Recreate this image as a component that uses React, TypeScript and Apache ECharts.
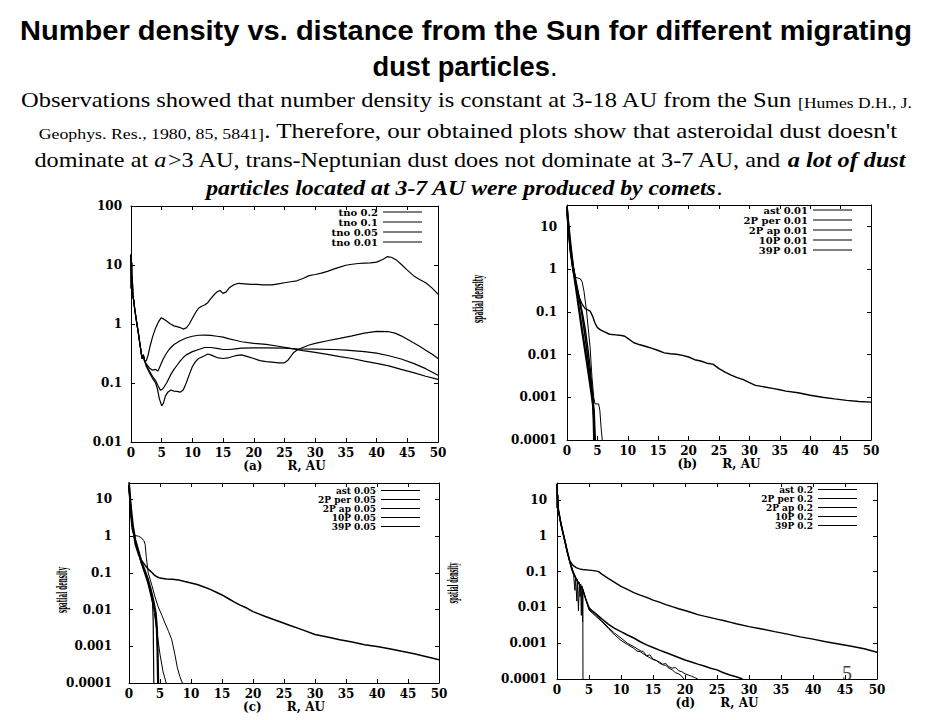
import React, { useEffect, useRef } from "react";
import * as echarts from "echarts";

type Pt = [number, number];

// ---------- axis ticks ----------
const xTickMin = 0;
const xTickMax = 50;
const xTickStep = 5;
const aYRange: Pt = [0.01, 100];
const bYRange: Pt = [0.0001, 32];
const cYRange: Pt = [0.0001, 28];
const dYRange: Pt = [0.0001, 30];

// ---------- panel (a) ----------
const aNames = ["tno 0.2", "tno 0.1", "tno 0.05", "tno 0.01"];
const aStart: Pt[] = [[0, 15], [0.05, 4], [0.1, 11], [0.15, 3.2], [0.2, 6.5], [0.3, 3], [0.45, 2.5], [0.6, 1.8], [0.8, 1.3], [1, 0.95], [1.2, 0.7], [1.4, 0.5], [1.6, 0.36], [1.8, 0.26], [2, 0.3], [2.2, 0.24]];
const aTno02: Pt[] = [...aStart, [2.5, 0.24], [2.8, 0.3], [3.1, 0.42], [3.5, 0.6], [4, 0.85], [4.5, 1.1], [4.9, 1.27], [5.3, 1.22], [5.8, 1.12], [6.3, 1.02], [7, 0.93], [7.5, 0.9], [8, 0.87], [8.5, 0.82], [9, 0.86], [9.5, 1.0], [10, 1.25], [10.5, 1.55], [11, 1.85], [11.5, 2.0], [12, 2.1], [12.5, 2.3], [13, 2.7], [13.5, 3.1], [14, 3.5], [14.5, 3.7], [15, 3.3], [15.5, 3.5], [16, 4.1], [16.7, 4.6], [17.5, 4.9], [18.5, 4.8], [19.5, 4.7], [20.5, 4.7], [21.5, 4.6], [23, 4.6], [24, 4.8], [25, 5.0], [26, 5.2], [27, 5.4], [28, 5.9], [29, 6.6], [30, 6.9], [31, 7.3], [32, 7.8], [33, 8.5], [34, 9.2], [35, 9.9], [36, 10.3], [37, 10.6], [38, 10.8], [39, 10.9], [40, 11.2], [41, 12.4], [41.8, 13.9], [42.5, 13.4], [43.2, 12.2], [44, 10.3], [45, 8.2], [46, 6.6], [47, 5.7], [48, 5.0], [49, 4.1], [50, 3.2]];
const aTno01: Pt[] = [...aStart, [2.5, 0.21], [3, 0.18], [3.5, 0.165], [4, 0.17], [4.4, 0.16], [4.8, 0.2], [5.2, 0.25], [5.7, 0.31], [6.2, 0.37], [7, 0.45], [8, 0.52], [9, 0.58], [10, 0.62], [11, 0.645], [12, 0.65], [13, 0.64], [14, 0.62], [15, 0.6], [16, 0.56], [17, 0.53], [18, 0.5], [20, 0.47], [22, 0.45], [24, 0.42], [26, 0.385], [28, 0.355], [30, 0.33], [32, 0.305], [34, 0.28], [36, 0.26], [38, 0.235], [40, 0.215], [42, 0.195], [44, 0.17], [46, 0.15], [48, 0.13], [50, 0.115]];
const aTno005: Pt[] = [...aStart, [2.5, 0.2], [3, 0.16], [3.5, 0.13], [4, 0.11], [4.4, 0.09], [4.8, 0.075], [5.2, 0.08], [5.8, 0.1], [6.5, 0.14], [7, 0.17], [7.5, 0.2], [8, 0.235], [8.5, 0.27], [9, 0.3], [10, 0.34], [11, 0.37], [12, 0.4], [13, 0.4], [14, 0.385], [15, 0.37], [16, 0.37], [17, 0.38], [18, 0.39], [20, 0.395], [22, 0.395], [25, 0.39], [27, 0.38], [30, 0.375], [33, 0.37], [35, 0.36], [38, 0.34], [40, 0.32], [42, 0.29], [44, 0.255], [46, 0.215], [48, 0.175], [50, 0.135]];
const aTno001: Pt[] = [...aStart, [2.5, 0.19], [3, 0.15], [3.5, 0.12], [4, 0.1], [4.3, 0.08], [4.6, 0.055], [5, 0.041], [5.3, 0.046], [5.6, 0.06], [6, 0.07], [6.5, 0.076], [7, 0.073], [7.5, 0.072], [8, 0.07], [8.5, 0.076], [9, 0.1], [9.5, 0.14], [10, 0.19], [10.5, 0.23], [11, 0.26], [12, 0.29], [12.5, 0.31], [13, 0.3], [14, 0.27], [15, 0.26], [16, 0.27], [17, 0.29], [18, 0.3], [19, 0.28], [20, 0.26], [21, 0.24], [22, 0.23], [23, 0.225], [24, 0.22], [25, 0.22], [25.5, 0.24], [26, 0.28], [26.5, 0.33], [27, 0.36], [28, 0.4], [29, 0.44], [30, 0.47], [32, 0.52], [34, 0.57], [36, 0.63], [38, 0.7], [40, 0.75], [42, 0.74], [43, 0.7], [44, 0.63], [45, 0.55], [46, 0.48], [47, 0.42], [48, 0.36], [49, 0.31], [50, 0.26]];

// ---------- panel (b) ----------
const bNames = ["ast 0.01", "2P per 0.01", "2P ap 0.01", "10P 0.01", "39P 0.01"];
const bAst: Pt[] = [[0, 30], [0.3, 8], [0.6, 3], [1, 1.2], [1.5, 0.5], [2, 0.22], [2.5, 0.08], [3, 0.025], [3.5, 0.007], [4, 0.002], [4.3, 0.0009], [4.5, 0.0001]];
const b2Pper: Pt[] = [[0, 25], [0.3, 9], [0.6, 3.5], [1, 1.1], [1.5, 0.35], [2, 0.11], [2.5, 0.035], [3, 0.012], [3.5, 0.004], [4, 0.0013], [4.4, 0.0005], [4.6, 0.0001]];
const b2Pap: Pt[] = [[0, 28], [0.3, 7], [0.6, 2.6], [1, 1.2], [1.4, 0.65], [1.8, 0.62], [2.2, 0.6], [2.5, 0.5], [2.8, 0.3], [3.2, 0.11], [3.5, 0.04], [3.8, 0.015], [4.1, 0.003], [4.4, 0.001], [4.6, 0.0007], [5.2, 0.0007], [5.4, 0.0005], [5.6, 0.0002], [5.8, 0.0001]];
const b10P: Pt[] = [[0, 20], [0.3, 6], [0.6, 2.2], [1, 0.9], [1.5, 0.4], [2, 0.2], [2.5, 0.1], [3, 0.04], [3.5, 0.012], [3.8, 0.005], [4.1, 0.0015], [4.3, 0.0004], [4.4, 0.0001]];
const b39P: Pt[] = [[0, 30], [0.2, 12], [0.5, 3], [1, 1.0], [1.5, 0.45], [2, 0.22], [2.5, 0.15], [3, 0.12], [3.5, 0.11], [3.8, 0.105], [4.2, 0.08], [4.6, 0.055], [5, 0.043], [5.5, 0.038], [6, 0.035], [7, 0.03], [8, 0.029], [9, 0.028], [9.5, 0.027], [10, 0.024], [11, 0.019], [12, 0.017], [13, 0.0155], [14, 0.014], [15, 0.0125], [16, 0.011], [17, 0.0105], [18, 0.0102], [19, 0.0096], [20, 0.0088], [21, 0.0076], [22, 0.0071], [23, 0.0063], [24, 0.006], [25, 0.0047], [26, 0.0039], [27, 0.0033], [28, 0.0029], [29, 0.0026], [30, 0.0022], [31, 0.0019], [32, 0.0018], [34, 0.0016], [35, 0.0015], [36, 0.0014], [38, 0.00128], [40, 0.00112], [42, 0.001], [44, 0.00092], [46, 0.00085], [48, 0.0008], [50, 0.00077]];

// ---------- panel (c) ----------
const cNames = ["ast 0.05", "2P per 0.05", "2P ap 0.05", "10P 0.05", "39P 0.05"];
const cAst: Pt[] = [[0, 20], [0.3, 5], [0.6, 1.8], [1, 0.7], [1.5, 0.35], [2, 0.18], [2.5, 0.1], [3, 0.055], [3.5, 0.025], [3.8, 0.015], [3.9, 0.005], [4, 0.0001]];
const c2Pper: Pt[] = [[0, 25], [0.3, 6], [0.6, 2], [1, 0.8], [1.5, 0.4], [2, 0.2], [2.5, 0.12], [3, 0.07], [3.5, 0.035], [4, 0.015], [4.3, 0.008], [4.5, 0.003], [4.6, 0.0008], [4.7, 0.0001]];
const c2Pap: Pt[] = [[0, 22], [0.3, 5.5], [0.6, 2], [1, 0.75], [1.5, 0.38], [2, 0.19], [2.5, 0.11], [3, 0.07], [3.5, 0.03], [4, 0.01], [4.5, 0.0025], [5, 0.0006], [5.5, 0.0002], [6, 0.0001]];
const c10P: Pt[] = [[0, 24], [0.2, 4.6], [0.5, 1.5], [0.8, 1.05], [1.5, 1.0], [2, 0.9], [2.4, 0.75], [2.6, 0.6], [2.8, 0.26], [3.1, 0.1], [3.7, 0.045], [4.2, 0.022], [4.7, 0.012], [5.3, 0.007], [5.8, 0.0043], [6.4, 0.0025], [6.9, 0.0015], [7.4, 0.0006], [7.8, 0.00026], [8.2, 0.00015], [8.6, 0.0001]];
const c39P: Pt[] = [[0, 30], [0.2, 8], [0.5, 2.2], [1, 0.6], [1.5, 0.33], [2, 0.22], [2.5, 0.17], [3, 0.13], [3.5, 0.11], [4, 0.09], [4.5, 0.078], [5, 0.072], [6, 0.068], [7, 0.067], [8, 0.064], [9, 0.058], [10, 0.053], [11, 0.048], [12, 0.042], [13, 0.036], [14, 0.03], [15, 0.025], [16, 0.02], [17, 0.016], [18, 0.013], [19, 0.011], [20, 0.0088], [22, 0.0065], [24, 0.0049], [26, 0.0037], [28, 0.0028], [30, 0.0021], [32, 0.0018], [34, 0.0015], [36, 0.0013], [38, 0.0011], [40, 0.00098], [42, 0.00086], [44, 0.00073], [46, 0.00063], [48, 0.00052], [50, 0.00043]];

// ---------- panel (d) ----------
const dNames = ["ast 0.2", "2P per 0.2", "2P ap 0.2", "10P 0.2", "39P 0.2"];
const dStart: Pt[] = [[0, 28], [0.05, 6], [0.1, 14], [0.2, 5], [0.3, 4.5], [0.5, 2.8], [0.7, 1.9], [1, 1.1], [1.3, 0.65], [1.6, 0.36], [2, 0.19], [2.5, 0.1], [3, 0.062], [3.5, 0.045], [4, 0.033], [4.5, 0.017]];
const dAst: Pt[] = [[0, 22], [0.1, 8], [0.3, 4], [0.6, 2], [1, 1.0], [1.5, 0.4], [2, 0.18], [2.3, 0.11], [2.6, 0.08], [2.8, 0.03], [2.9, 0.07], [3.1, 0.015], [3.2, 0.06], [3.35, 0.008], [3.5, 0.05], [3.6, 0.02], [3.7, 0.045], [3.8, 0.006], [3.9, 0.04], [4, 0.004], [4.03, 0.03], [4.06, 0.0001]];
const d2Pper: Pt[] = [...dStart, [5, 0.01], [5.5, 0.008], [6, 0.0068], [7, 0.0048], [8, 0.0034], [9, 0.0026], [10, 0.0021], [11, 0.0017], [12, 0.0014], [13, 0.0011], [14, 0.0009], [15, 0.00076], [16, 0.00064], [17, 0.00055], [18, 0.00047], [19, 0.0004], [20, 0.00034], [21, 0.0003], [22, 0.00026], [23, 0.00023], [24, 0.0002], [25, 0.00018], [26, 0.00015], [27, 0.00013], [28, 0.000115], [29, 0.0001]];
const d2Pap: Pt[] = [...dStart, [5, 0.009], [5.5, 0.0075], [6, 0.0062], [7, 0.0042], [8, 0.0028], [9, 0.0019], [10, 0.0014], [11, 0.001], [12, 0.0008], [13, 0.00062], [13.5, 0.00058], [14, 0.00045], [14.5, 0.00047], [15, 0.00036], [16, 0.0003], [16.5, 0.00026], [17, 0.00027], [17.5, 0.00022], [18, 0.0002], [18.5, 0.00021], [19, 0.00017], [19.5, 0.00016], [20, 0.00014], [20.5, 0.00013], [21, 0.00012], [21.5, 0.00011], [22, 0.0001]];
const d10P: Pt[] = [...dStart, [5, 0.0085], [5.5, 0.007], [6, 0.0058], [7, 0.004], [8, 0.0026], [9, 0.0017], [10, 0.0012], [11, 0.00092], [12, 0.00072], [12.5, 0.0006], [13, 0.00058], [14, 0.00044], [15, 0.00035], [15.5, 0.00033], [16, 0.00028], [16.5, 0.00025], [17, 0.00024], [17.5, 0.0002], [18, 0.00018], [18.5, 0.00015], [19, 0.00014], [19.5, 0.00012], [19.8, 0.0001]];
const d39P: Pt[] = [[0, 25], [0.1, 10], [0.2, 6], [0.5, 2.8], [1, 1.1], [1.5, 0.45], [2, 0.2], [2.5, 0.15], [3, 0.13], [3.5, 0.12], [4, 0.115], [5, 0.11], [6, 0.105], [6.5, 0.1], [7, 0.085], [8, 0.065], [9, 0.05], [10, 0.039], [11, 0.032], [12, 0.026], [13, 0.022], [14, 0.019], [15, 0.016], [16, 0.014], [17, 0.012], [18, 0.0105], [19, 0.0092], [20, 0.0082], [21, 0.0072], [22, 0.0063], [23, 0.0057], [24, 0.0052], [25, 0.0047], [26, 0.0043], [27, 0.0039], [28, 0.0035], [30, 0.0029], [32, 0.0025], [34, 0.0021], [36, 0.0018], [38, 0.0015], [40, 0.0013], [42, 0.0011], [44, 0.00095], [46, 0.00082], [48, 0.0007], [50, 0.00056]];

// ---------- texts ----------
const titleLine1 = "Number density vs. distance from the Sun for different migrating";
const titleLine2 = "dust particles";
const paraLines: [string, string][][] = [
  [["n", "Observations showed that number density is constant at 3-18 AU from the Sun "], ["s", "[Humes D.H., J."]],
  [["s", "Geophys. Res., 1980, 85, 5841]"], ["n", ". Therefore, our obtained plots show that asteroidal dust doesn't"]],
  [["n", "dominate at "], ["i", "a"], ["n", ">3 AU, trans-Neptunian dust does not dominate at 3-7 AU, and "], ["bi", "a lot of dust"]],
  [["bi", "particles located at 3-7 AU were produced by comets"], ["n", "."]],
];
const yName = "spatial density";
const pageNumber = "5";

const W = 931;
const H = 720;
const TICK_FONT = "DejaVu Serif";

type FontDef = { fontFamily: string; fontSize: number; fontWeight?: string; fontStyle?: string };
const FONTS: Record<string, FontDef> = {
  T: { fontFamily: "Liberation Sans", fontSize: 28, fontWeight: "bold" },
  Tn: { fontFamily: "Liberation Sans", fontSize: 28 },
  n: { fontFamily: "Liberation Serif", fontSize: 21 },
  s: { fontFamily: "Liberation Serif", fontSize: 15 },
  i: { fontFamily: "Liberation Serif", fontSize: 21, fontStyle: "italic" },
  bi: { fontFamily: "Liberation Serif", fontSize: 21, fontStyle: "italic", fontWeight: "bold" },
  y: { fontFamily: TICK_FONT, fontSize: 15, fontWeight: "bold" },
};
function fontStr(f: FontDef) {
  return `${f.fontStyle || "normal"} ${f.fontWeight || "normal"} ${f.fontSize}px "${f.fontFamily}"`;
}
let ctx2d: CanvasRenderingContext2D | null = null;
function measure(f: FontDef, t: string) {
  if (!ctx2d) ctx2d = document.createElement("canvas").getContext("2d");
  if (!ctx2d) return t.length * f.fontSize * 0.5;
  ctx2d.font = fontStr(f);
  return ctx2d.measureText(t).width;
}
function lineEl(segs: [string, string][], cx: number, cy: number, targetW: number) {
  let total = 0;
  const rich: Record<string, any> = {};
  segs.forEach(([k, t]) => {
    total += measure(FONTS[k], t);
    rich[k] = { ...FONTS[k], fill: "#000", verticalAlign: "bottom" };
  });
  return {
    type: "text",
    x: cx,
    y: cy,
    scaleX: targetW / total,
    silent: true,
    style: {
      text: segs.map(([k, t]) => `{${k}|${t}}`).join(""),
      rich,
      fill: "#000",
      align: "center",
      verticalAlign: "middle",
      textAlign: "center",
      textVerticalAlign: "middle",
    },
  };
}
function yNameEl(cx: number, cy: number, len: number) {
  const f = FONTS.y;
  return {
    type: "text",
    x: cx,
    y: cy,
    rotation: Math.PI / 2,
    scaleX: len / measure(f, yName),
    silent: true,
    style: {
      text: yName,
      ...f,
      fill: "#000",
      align: "center",
      verticalAlign: "middle",
      textAlign: "center",
      textVerticalAlign: "middle",
    },
  };
}

type Panel = {
  left: number; top: number; width: number; height: number; labelMargin: number;
  yRange: Pt; xName: string; names: string[]; curves: Pt[][]; widths: number[];
  legendRight: number; legendTop: number; legendFont: number; legendLine: number;
};
const panels: Panel[] = [
  { left: 131, top: 206, width: 307, height: 236, labelMargin: 9, yRange: aYRange, xName: "(a)", names: aNames, curves: [aTno02, aTno01, aTno005, aTno001], widths: [1.2, 1.2, 1.2, 1.2], legendRight: 509, legendTop: 207, legendFont: 10, legendLine: 10 },
  { left: 567, top: 205, width: 304, height: 235, labelMargin: 10, yRange: bYRange, xName: "(b)", names: bNames, curves: [bAst, b2Pper, b2Pap, b10P, b39P], widths: [1.6, 2.2, 1, 1.4, 1.4], legendRight: 79, legendTop: 205, legendFont: 10, legendLine: 9.6 },
  { left: 129, top: 483, width: 310, height: 200, labelMargin: 17, yRange: cYRange, xName: "(c)", names: cNames, curves: [cAst, c2Pper, c2Pap, c10P, c39P], widths: [1.2, 2.2, 1, 1, 1.5], legendRight: 511, legendTop: 486, legendFont: 9, legendLine: 8.3 },
  { left: 557, top: 483, width: 320, height: 196, labelMargin: 10, yRange: dYRange, xName: "(d)", names: dNames, curves: [dAst, d2Pper, d2Pap, d10P, d39P], widths: [1, 1.5, 1, 1, 1.4], legendRight: 74, legendTop: 485, legendFont: 9, legendLine: 8.3 },
];

function logLabel(v: number) {
  const l = Math.log10(v);
  if (Math.abs(l - Math.round(l)) > 1e-6) return "";
  return String(Number(Math.pow(10, Math.round(l)).toPrecision(6)));
}

function buildOption() {
  const axisLine = { show: true, onZero: false, lineStyle: { color: "#000", width: 1 } };
  const axisTick = { show: true, inside: true, length: 4, lineStyle: { color: "#000", width: 1 } };
  const labelStyle = { color: "#000", fontFamily: TICK_FONT, fontWeight: "bold", fontSize: 12 };
  const xAxis: any[] = [];
  const yAxis: any[] = [];
  const legend: any[] = [];
  const series: any[] = [];
  panels.forEach((p, i) => {
    xAxis.push({
      type: "value", gridIndex: i, min: xTickMin, max: xTickMax, interval: xTickStep, position: "bottom",
      axisLine, axisTick, splitLine: { show: false },
      axisLabel: { ...labelStyle, margin: 5 },
      name: `${p.xName}\u00a0\u00a0\u00a0\u00a0\u00a0\u00a0R, AU`, nameLocation: "middle", nameGap: i < 2 ? 16 : 17,
      nameTextStyle: { ...labelStyle },
    });
    xAxis.push({
      type: "value", gridIndex: i, min: xTickMin, max: xTickMax, interval: xTickStep, position: "top",
      axisLine, axisTick, splitLine: { show: false }, axisLabel: { show: false },
    });
    yAxis.push({
      type: "log", logBase: 10, gridIndex: i, min: p.yRange[0], max: p.yRange[1], position: "left",
      axisLine, axisTick, splitLine: { show: false },
      axisLabel: { ...labelStyle, margin: p.labelMargin, formatter: logLabel },
    });
    yAxis.push({
      type: "log", logBase: 10, gridIndex: i, min: p.yRange[0], max: p.yRange[1], position: "right",
      axisLine, axisTick, splitLine: { show: false }, axisLabel: { show: false },
    });
    legend.push({
      data: p.names, orient: "vertical", align: "right", right: p.legendRight, top: p.legendTop,
      itemWidth: 39, itemHeight: 1, itemGap: 0, icon: "rect", padding: 0, selectedMode: false,
      textStyle: { color: "#000", fontFamily: TICK_FONT, fontWeight: "bold", fontSize: p.legendFont, lineHeight: p.legendLine },
    });
    p.curves.forEach((c, k) => {
      series.push({
        type: "line", name: p.names[k], xAxisIndex: 2 * i, yAxisIndex: 2 * i, data: c,
        showSymbol: false, symbol: "none", silent: true, clip: true,
        lineStyle: { color: "#000", width: p.widths[k] },
        itemStyle: { color: "#000" },
      });
    });
  });

  const graphic: any[] = [
    lineEl([["T", titleLine1]], 466, 30, 892),
    lineEl([["T", titleLine2], ["Tn", "."]], 465, 66, 185),
    lineEl(paraLines[0], 466, 100, 892),
    lineEl(paraLines[1], 468, 131, 859),
    lineEl(paraLines[2], 470, 160, 871),
    lineEl(paraLines[3], 464, 188, 517),
    yNameEl(478, 299, 48),
    yNameEl(62, 590, 46),
    yNameEl(453, 583, 41),
    {
      type: "text", x: 847, y: 673, silent: true,
      style: { text: pageNumber, fontFamily: "Liberation Serif", fontSize: 20, fill: "#444", align: "center", verticalAlign: "middle", textAlign: "center", textVerticalAlign: "middle" },
    },
  ];

  return {
    animation: false,
    backgroundColor: "#fff",
    textStyle: { fontFamily: TICK_FONT },
    grid: panels.map((p) => ({ left: p.left, top: p.top, width: p.width, height: p.height, containLabel: false })),
    xAxis, yAxis, legend, series, graphic,
  };
}

export default function App() {
  const ref = useRef<HTMLDivElement>(null);
  useEffect(() => {
    if (!ref.current) return;
    const chart = echarts.init(ref.current, null, { renderer: "svg", width: W, height: H });
    chart.setOption(buildOption() as any);
    return () => chart.dispose();
  }, []);
  return (
    <div
      ref={ref}
      style={{ position: "absolute", left: 0, top: 0, width: W, height: H, background: "#fff" }}
    />
  );
}
